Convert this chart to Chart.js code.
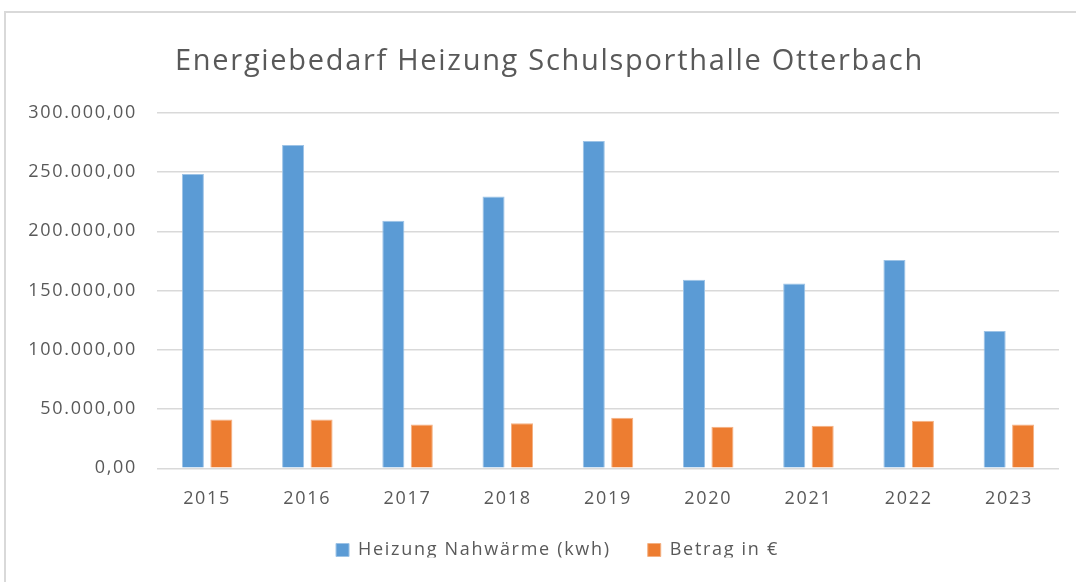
<!DOCTYPE html>
<html lang="de">
<head>
  <meta charset="UTF-8">
  <title>Energiebedarf Heizung Schulsporthalle Otterbach</title>
  <script src="https://cdn.jsdelivr.net/npm/chart.js"></script>
  <style>
    html, body { margin: 0; padding: 0; background: #fff; }
    #wrap { position: relative; width: 1076px; height: 582px; }
    #frame { position: absolute; left: 4px; top: 11px; right: -4px; bottom: -4px;
             border-left: 2px solid #d9d9d9; border-top: 2px solid #d9d9d9; }
    canvas { position: absolute; left: 0; top: 0; }
  </style>
</head>
<body>
  <div id="wrap">
    <div id="frame"></div>
    <canvas id="chart" width="1076" height="582"></canvas>
  </div>
  <script>
    const years = ['2015', '2016', '2017', '2018', '2019', '2020', '2021', '2022', '2023'];
    const heizung = [248300, 272800, 208900, 229400, 276100, 159100, 156000, 175700, 115800];
    const betrag = [41200, 41200, 37000, 38100, 42600, 35000, 35900, 40100, 37000];

    const grey = '#595959';
    const fontFam = "'Open Sans', 'Noto Sans', sans-serif";

    const fmt = new Intl.NumberFormat('de-DE', { minimumFractionDigits: 2, maximumFractionDigits: 2 });

    // the original text is a bit wider than Open Sans, so space the letters a little
    const spacing = {
      id: 'spacing',
      beforeLayout(chart) { chart.ctx.letterSpacing = '1.7px'; },
      beforeDraw(chart) { chart.ctx.letterSpacing = '1.7px'; },
      // title and legend sit a bit off the default spots in the original
      afterLayout(chart) {
        chart.titleBlock.left += 20; chart.titleBlock.right += 20;
        chart.legend.left += 28; chart.legend.right += 28;
        chart.legend.top -= 24.5; chart.legend.bottom -= 24.5;
      }
    };

    new Chart(document.getElementById('chart'), {
      type: 'bar',
      data: {
        labels: years,
        datasets: [
          { label: 'Heizung Nahwärme (kwh)', data: heizung, backgroundColor: '#5b9bd5', borderColor: '#9dc3e6', borderWidth: 1 },
          { label: 'Betrag in €', data: betrag, backgroundColor: '#ed7d31', borderColor: '#f4b183', borderWidth: 1 }
        ]
      },
      plugins: [spacing],
      options: {
        responsive: false,
        animation: false,
        categoryPercentage: 0.568,
        barPercentage: 0.775,
        layout: { padding: { left: 0, right: 17, top: 0, bottom: 0 } },
        plugins: {
          title: {
            display: true,
            text: 'Energiebedarf Heizung Schulsporthalle Otterbach',
            color: grey,
            font: { family: fontFam, size: 29, weight: 'normal', lineHeight: 1.2 },
            padding: { top: 44, bottom: 34 }
          },
          legend: {
            position: 'bottom',
            maxHeight: 53.5,
            labels: {
              color: grey,
              font: { family: fontFam, size: 18 },
              boxWidth: 13,
              boxHeight: 13,
              padding: 37
            }
          },
          tooltip: { enabled: false }
        },
        scales: {
          x: {
            grid: { display: false, drawTicks: false },
            border: { display: false },
            ticks: { color: grey, font: { family: fontFam, size: 18, lineHeight: 0.9 }, padding: 22 }
          },
          y: {
            min: 0,
            max: 300000,
            afterFit: (s) => { s.width = 157; },
            grid: { color: '#d9d9d9', lineWidth: 1.5, drawTicks: false },
            border: { display: false },
            ticks: {
              stepSize: 50000,
              color: grey,
              padding: 20,
              font: { family: fontFam, size: 18 },
              callback: (v) => fmt.format(v)
            }
          }
        }
      }
    });
  </script>
</body>
</html>
